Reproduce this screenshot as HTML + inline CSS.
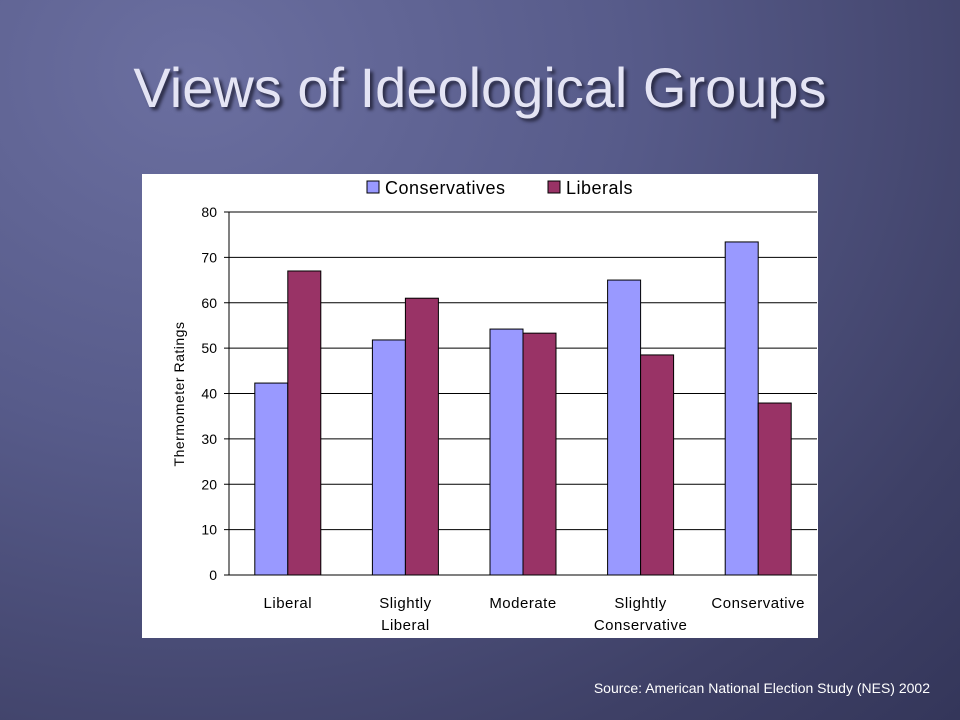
<!DOCTYPE html>
<html><head><meta charset="utf-8"><style>
html,body{margin:0;padding:0}
body{width:960px;height:720px;overflow:hidden;position:relative;font-family:"Liberation Sans",sans-serif;
background:radial-gradient(ellipse at 20% 10%,#6b6fa0 0%,#575b8a 40%,#3e4066 80%,#34365a 100%);}
#title{position:absolute;left:0;width:960px;top:55px;text-align:center;font-size:56px;color:#e4e4f4;text-shadow:3px 3px 3px #2a2b45;}
#chart{position:absolute;left:142px;top:174px;width:676px;height:464px;background:#fff}
#source{position:absolute;right:30px;top:680px;font-size:14px;color:#fff}
</style></head><body>
<div id="title">Views of Ideological Groups</div>
<svg id="chart" width="676" height="464" viewBox="142 174 676 464"></svg>
<div id="source">Source: American National Election Study (NES) 2002</div>
<script>
const categories=[["Liberal"],["Slightly","Liberal"],["Moderate"],["Slightly","Conservative"],["Conservative"]];
const conservatives=[42.3,51.8,54.2,65,73.4];
const liberals=[67,61,53.3,48.5,37.9];
const ticks=[0,10,20,30,40,50,60,70,80];
const svg=document.getElementById('chart');
const NS='http://www.w3.org/2000/svg';
const X0=229,X1=817,Y0=575,Y1=212,MAX=80;
const y=v=>Y0-(v/MAX)*(Y0-Y1);
const cw=(X1-X0)/categories.length;
const cx=i=>X0+cw*(i+0.5);
function mk(t,a){const e=document.createElementNS(NS,t);for(const k in a)e.setAttribute(k,a[k]);svg.appendChild(e);return e;}
ticks.forEach(t=>{
 const l=mk('line',{x1:X0-5,x2:X1,y1:y(t),y2:y(t),stroke:'#000','stroke-width':1});
 
 
 const tx=mk('text',{x:X0-12,y:y(t)+5,'text-anchor':'end','font-size':14,fill:'#000'});
 tx.textContent=t;
 
 
});
const ax=mk('line',{x1:X0,x2:X0,y1:Y1,y2:Y0,stroke:'#000'});


const bw=33;
categories.forEach((c,i)=>{
 const a=mk('rect',{x:cx(i)-bw,y:y(conservatives[i]),width:bw,height:Y0-y(conservatives[i]),fill:'#9999ff',stroke:'#000','stroke-width':1});
 
 
 const b=mk('rect',{x:cx(i),y:y(liberals[i]),width:bw,height:Y0-y(liberals[i]),fill:'#993366',stroke:'#000','stroke-width':1});
 
 
 c.forEach((ln,j)=>{
  const t=mk('text',{x:cx(i),y:608+j*22,'text-anchor':'middle','font-size':15,fill:'#000','letter-spacing':'0.5'});
  t.textContent=ln;
  
  
 });
});
const yt=mk('text',{x:0,y:0,'text-anchor':'middle','font-size':14,fill:'#000',transform:'translate(184,394) rotate(-90)','letter-spacing':'0.5'});
yt.textContent='Thermometer Ratings';


const l1=mk('rect',{x:367,y:181,width:12,height:12,fill:'#9999ff',stroke:'#000'});


const lt1=mk('text',{x:385,y:194,'font-size':18,fill:'#000','letter-spacing':'0.5'});
lt1.textContent='Conservatives';


const l2=mk('rect',{x:548,y:181,width:12,height:12,fill:'#993366',stroke:'#000'});


const lt2=mk('text',{x:566,y:194,'font-size':18,fill:'#000','letter-spacing':'0.5'});
lt2.textContent='Liberals';


</script>
</body></html>
